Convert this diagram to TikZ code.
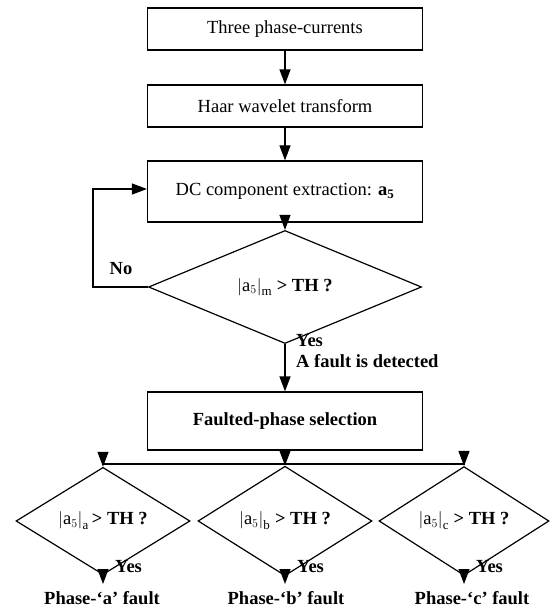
\documentclass[tikz,border=0pt]{standalone}
\usepackage{amsmath}
\usepackage{fontspec}
\setmainfont{Liberation Serif}
\usetikzlibrary{shapes.geometric,arrows.meta}
\tikzset{
  txt/.style={font=\fontsize{18.5}{21}\selectfont, inner sep=0pt},
  procbox/.style={txt, draw, line width=1.2pt, minimum width=275pt, inner sep=0pt},
  decis/.style={txt, draw, diamond, line width=1.2pt, inner sep=0pt},
  flow/.style={line width=1.2pt, -{Triangle[length=15pt,width=11pt]}},
  lbl/.style={txt, font=\fontsize{18.5}{21}\selectfont\bfseries}
}
\newcommand{\absval}[1]{$\left|\textrm{a}_{5}\right|_{\textrm{#1}}$}
\begin{document}
\begin{tikzpicture}[x=1pt,y=-1pt]
\useasboundingbox (0,0) rectangle (549,612);
\node[procbox, minimum height=42pt] (b1) at (285,29) {Three phase-currents};
\node[procbox, minimum height=42pt] (b2) at (285,106) {Haar wavelet transform};
\node[procbox, minimum height=61pt] (b3) at (285,191.5) {DC component extraction: \textbf{a}\textsubscript{\textbf{5}}};
\node[decis, minimum width=273pt, minimum height=70pt] (d1) at (285,287) {\absval{m} \textbf{> TH ?}};
\node[procbox, minimum height=58pt, font=\fontsize{18.5}{21}\selectfont\bfseries] (b4) at (285,421) {Faulted-phase selection};
\node[decis, minimum width=174pt, minimum height=63pt] (da) at (103,521) {\absval{a}\,\textbf{> TH ?}};
\node[decis, minimum width=174pt, minimum height=63pt] (db) at (285,521) {\absval{b} \textbf{> TH ?}};
\node[decis, minimum width=170pt, minimum height=63pt] (dc) at (464,521) {\absval{c} \textbf{> TH ?}};
\coordinate (j) at (285,464);
\coordinate (lb) at (93,287);
\coordinate (lt) at (93,189);
\coordinate (ea) at (103,584);
\coordinate (eb) at (285,584);
\coordinate (ec) at (464,584);
\draw[flow] (b1) -- (b2);
\draw[flow] (b2) -- (b3);
\draw[flow] (b3) -- (d1);
\draw[flow] (d1) -- (b4);
\draw[flow] (d1.west) -- (lb) -- (lt) -- (lt -| b3.west);
\draw[flow] (b4) -- (db);
\draw[flow] (j) -| (da.north);
\draw[flow] (j) -| (dc.north);
\draw[flow] (da.south) -- (ea);
\draw[flow] (db.south) -- (eb);
\draw[flow] (dc.south) -- (ec);
\node[lbl] (no) at (121,269) {No};
\node[lbl, anchor=west, align=left] (yes1) at (296,351) {Yes\\A fault is detected};
\node[lbl, anchor=west] (ya) at (115,567) {Yes};
\node[lbl, anchor=west] (yb) at (297,567) {Yes};
\node[lbl, anchor=west] (yc) at (476,567) {Yes};
\node[lbl] (pa) at (102,598) {Phase-`a' fault};
\node[lbl] (pb) at (286,598) {Phase-`b' fault};
\node[lbl] (pc) at (472,598) {Phase-`c' fault};
\end{tikzpicture}
\end{document}
